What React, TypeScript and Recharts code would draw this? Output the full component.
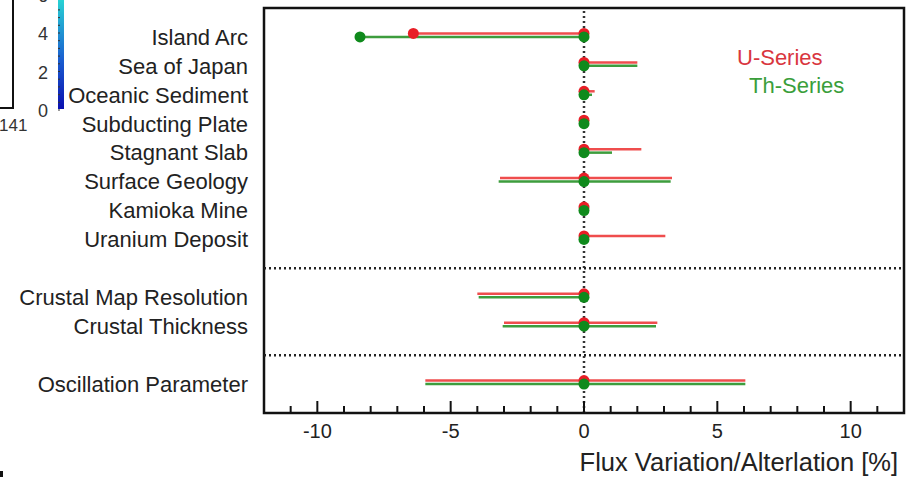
import React from 'react';
import {
  ScatterChart,
  Scatter,
  XAxis,
  YAxis,
  ErrorBar,
  ReferenceLine,
  ReferenceArea,
} from 'recharts';

const categories = [
  'Island Arc',
  'Sea of Japan',
  'Oceanic Sediment',
  'Subducting Plate',
  'Stagnant Slab',
  'Surface Geology',
  'Kamioka Mine',
  'Uranium Deposit',
  'Crustal Map Resolution',
  'Crustal Thickness',
  'Oscillation Parameter',
];
// row slot of each category (gaps hold the dotted separators)
const rowPositions = [0, 1, 2, 3, 4, 5, 6, 7, 9, 10, 12];
const separators = [8, 11];

// flux variation range [%] per category
const uLow = [-6.4, 0, 0, 0, 0, -3.15, 0, 0, -4.0, -3.0, -5.95];
const uHigh = [0, 2.0, 0.4, 0, 2.15, 3.3, 0, 3.05, 0, 2.75, 6.05];
const thLow = [-8.4, 0, 0, 0, 0, -3.2, 0, 0, -3.95, -3.05, -5.95];
const thHigh = [0, 2.0, 0.3, 0, 1.05, 3.25, 0, 0, 0, 2.7, 6.05];
const endDotRows = ['Island Arc'];

const majorTicks = [-10, -5, 0, 5, 10];
const minorTicks = [-11, -10, -9, -8, -7, -6, -5, -4, -3, -2, -1, 0, 1, 2, 3, 4, 5, 6, 7, 8, 9, 10, 11];
const colorbarLabels = [0, 2, 4, 6];

const U_DOT = '#e81e26';
const U_LINE = '#ef4d4d';
const TH_DOT = '#0f8a1c';
const TH_LINE = '#3d9d3d';
const U_SHIFT = 0.12;

const uData = categories.map((c, i) => ({
  name: c,
  x: 0,
  y: rowPositions[i] - U_SHIFT,
  err: [-uLow[i], uHigh[i]],
}));
const thData = categories.map((c, i) => ({
  name: c,
  x: 0,
  y: rowPositions[i],
  err: [-thLow[i], thHigh[i]],
}));
const uEnds = categories
  .map((c, i) => ({ name: c, x: uLow[i], y: rowPositions[i] - U_SHIFT }))
  .filter((d) => endDotRows.includes(d.name));
const thEnds = categories
  .map((c, i) => ({ name: c, x: thLow[i], y: rowPositions[i] }))
  .filter((d) => endDotRows.includes(d.name));

const dot = (color: string) => (p: any) => <circle cx={p.cx} cy={p.cy} r={5.5} fill={color} />;

const XTick = (props: any) => {
  const { x, y, payload } = props;
  const major = majorTicks.includes(payload.value);
  return (
    <g>
      <line x1={x} x2={x} y1={y} y2={y - (major ? 12 : 7)} stroke="#111" strokeWidth={2} />
      {major && (
        <text x={x} y={y + 25} textAnchor="middle" fontSize={20} fill="#222">
          {String(payload.value)}
        </text>
      )}
    </g>
  );
};

const rowName = (v: number) => {
  const i = rowPositions.indexOf(v);
  return i >= 0 ? categories[i] : '';
};

function Colorbar() {
  // bits of the neighbouring panel that got cropped into the figure
  const y0 = 110;
  const step = 19.25;
  const minor = [];
  for (let v = 0; v <= 5.6; v += 0.4) minor.push(v);
  return (
    <svg width={910} height={477} style={{ position: 'absolute', left: 0, top: 0, pointerEvents: 'none' }}>
      <defs>
        <linearGradient id="cbar" x1="0" y1="1" x2="0" y2="0">
          <stop offset="0%" stopColor="#0a0fb0" />
          <stop offset="45%" stopColor="#1a5fd0" />
          <stop offset="100%" stopColor="#28d6d4" />
        </linearGradient>
      </defs>
      <rect x={58} y={-2} width={6} height={111} fill="url(#cbar)" />
      {minor.map((v) => (
        <line key={v} x1={58} x2={60} y1={y0 - v * step} y2={y0 - v * step} stroke="#333" strokeWidth={1} />
      ))}
      {colorbarLabels.map((v) => (
        <text key={v} x={43} y={y0 - v * step + 7} textAnchor="middle" fontSize={18} fill="#333">
          {v}
        </text>
      ))}
      <line x1={13} x2={13} y1={0} y2={108} stroke="#111" strokeWidth={2} />
      <line x1={0} x2={14} y1={108} y2={108} stroke="#111" strokeWidth={2} />
      <text x={-1} y={131} fontSize={17} fill="#333">141</text>
      <rect x={0} y={471} width={3} height={6} fill="#111" />
      <text x={737} y={65} fontSize={22} fill="#d9363e">U-Series</text>
      <text x={749} y={93} fontSize={22} fill="#3a9e3a">Th-Series</text>
    </svg>
  );
}

export default function App() {
  return (
    <div
      style={{
        position: 'absolute',
        left: 0,
        top: 0,
        width: 910,
        height: 477,
        background: '#fff',
        fontFamily: '"Liberation Sans", Arial, Helvetica, sans-serif',
      }}
    >
      <ScatterChart width={910} height={477} margin={{ top: 8, right: 6, bottom: 0, left: 0 }}>
        <XAxis
          type="number"
          dataKey="x"
          domain={[-12, 12]}
          allowDataOverflow
          ticks={minorTicks}
          interval={0}
          tick={XTick}
          tickLine={false}
          tickSize={0}
          tickMargin={0}
          axisLine={false}
          height={64}
          label={{
            value: 'Flux Variation/Alterlation [%]',
            position: 'insideBottomRight',
            offset: 6,
            fontSize: 25.5,
            fill: '#222',
          }}
        />
        <YAxis
          type="number"
          dataKey="y"
          domain={[-1, 13]}
          reversed
          allowDataOverflow
          ticks={rowPositions}
          interval={0}
          tickFormatter={rowName}
          tickLine={false}
          tickSize={0}
          tickMargin={16}
          axisLine={false}
          width={264}
          tick={{ fontSize: 22, fill: '#222' }}
        />
        <ReferenceArea
          x1={-12}
          x2={12}
          y1={-1}
          y2={13}
          fill="none"
          stroke="#111"
          strokeWidth={2.5}
          ifOverflow="visible"
        />
        <ReferenceLine x={0} stroke="#333" strokeWidth={2.5} strokeDasharray="2 3" />
        {separators.map((s) => (
          <ReferenceLine key={s} y={s} stroke="#222" strokeWidth={2.5} strokeDasharray="2 3" />
        ))}
        <Scatter data={uData} shape={dot(U_DOT)} isAnimationActive={false}>
          <ErrorBar dataKey="err" direction="x" width={0} stroke={U_LINE} strokeWidth={2.5} isAnimationActive={false} />
        </Scatter>
        <Scatter data={uEnds} shape={dot(U_DOT)} isAnimationActive={false} />
        <Scatter data={thData} shape={dot(TH_DOT)} isAnimationActive={false}>
          <ErrorBar dataKey="err" direction="x" width={0} stroke={TH_LINE} strokeWidth={2.5} isAnimationActive={false} />
        </Scatter>
        <Scatter data={thEnds} shape={dot(TH_DOT)} isAnimationActive={false} />
      </ScatterChart>
      <Colorbar />
    </div>
  );
}
